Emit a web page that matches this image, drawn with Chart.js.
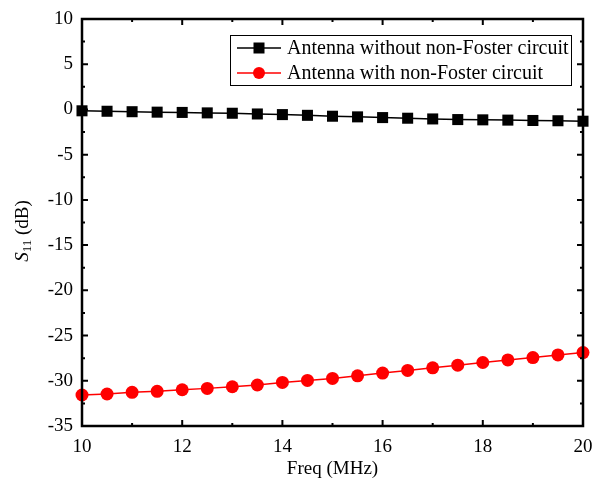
<!DOCTYPE html>
<html>
<head>
<meta charset="utf-8">
<script src="https://cdn.jsdelivr.net/npm/chart.js@4.4.1/dist/chart.umd.min.js"></script>
<style>
  html, body { margin: 0; padding: 0; background: #fff; }
  #wrap { width: 593px; height: 482px; }
</style>
</head>
<body>
<div id="wrap"><canvas id="grafico"></canvas></div>
<script>
// frecuencias (MHz)
const freq = [10, 10.5, 11, 11.5, 12, 12.5, 13, 13.5, 14, 14.5, 15, 15.5, 16, 16.5, 17, 17.5, 18, 18.5, 19, 19.5, 20];
// S11 sin circuito non-Foster
const s11Sin = [-0.15, -0.2, -0.25, -0.3, -0.33, -0.38, -0.42, -0.5, -0.57, -0.65, -0.75, -0.82, -0.9, -0.97, -1.05, -1.12, -1.15, -1.18, -1.22, -1.25, -1.3];
// S11 con circuito non-Foster
const s11Con = [-31.57, -31.46, -31.28, -31.17, -30.99, -30.84, -30.66, -30.47, -30.18, -29.96, -29.74, -29.45, -29.15, -28.86, -28.57, -28.27, -27.98, -27.69, -27.43, -27.14, -26.88];
const nombres = ['Antenna without non-Foster circuit', 'Antenna with non-Foster circuit'];
const xTicks = [10, 12, 14, 16, 18, 20];
const yTicks = [10, 5, 0, -5, -10, -15, -20, -25, -30, -35];

const FUENTE = '"Liberation Serif", "Times New Roman", serif';

// marco, ticks hacia adentro, titulo Y y leyenda
const extras = {
  id: 'extras',
  afterDraw(chart) {
    const { ctx, chartArea: a, scales: { x, y } } = chart;
    ctx.save();
    ctx.strokeStyle = '#000';
    ctx.lineWidth = 2.5;
    ctx.strokeRect(a.left, a.top, a.right - a.left, a.bottom - a.top);

    ctx.lineWidth = 2;
    for (let v = 10; v <= 20; v += 1) {
      const px = x.getPixelForValue(v);
      const len = v % 2 === 0 ? 6 : 3;
      ctx.beginPath();
      ctx.moveTo(px, a.bottom); ctx.lineTo(px, a.bottom - len);
      ctx.moveTo(px, a.top); ctx.lineTo(px, a.top + len);
      ctx.stroke();
    }
    for (let v = -35; v <= 10; v += 2.5) {
      const py = y.getPixelForValue(v);
      const len = v % 5 === 0 ? 6 : 3;
      ctx.beginPath();
      ctx.moveTo(a.left, py); ctx.lineTo(a.left + len, py);
      ctx.moveTo(a.right, py); ctx.lineTo(a.right - len, py);
      ctx.stroke();
    }

    // titulo eje Y: S11 (dB)
    ctx.fillStyle = '#000';
    ctx.translate(23, 231);
    ctx.rotate(-Math.PI / 2);
    ctx.textBaseline = 'middle';
    ctx.font = 'italic 19px ' + FUENTE;
    const wS = ctx.measureText('S').width;
    ctx.font = '13px ' + FUENTE;
    const w11 = ctx.measureText('11').width;
    ctx.font = '19px ' + FUENTE;
    const wR = ctx.measureText(' (dB)').width;
    let tx = -(wS + w11 + wR) / 2;
    ctx.textAlign = 'left';
    ctx.font = 'italic 19px ' + FUENTE;
    ctx.fillText('S', tx, 0);
    tx += wS;
    ctx.font = '13px ' + FUENTE;
    ctx.fillText('11', tx, 5);
    tx += w11;
    ctx.font = '19px ' + FUENTE;
    ctx.fillText(' (dB)', tx, 0);
    ctx.restore();

    // leyenda
    ctx.save();
    const lx = 230, ly = 35, lw = 341, lh = 50;
    ctx.fillStyle = '#fff';
    ctx.fillRect(lx, ly, lw, lh);
    ctx.strokeStyle = '#000';
    ctx.lineWidth = 1;
    ctx.strokeRect(lx + 0.5, ly + 0.5, lw, lh);
    ctx.font = '20px ' + FUENTE;
    ctx.textBaseline = 'middle';
    chart.data.datasets.forEach((ds, i) => {
      const cy = ly + 13 + i * 25;
      ctx.strokeStyle = ds.borderColor;
      ctx.lineWidth = 1.5;
      ctx.beginPath();
      ctx.moveTo(lx + 7, cy); ctx.lineTo(lx + 51, cy);
      ctx.stroke();
      ctx.fillStyle = ds.backgroundColor;
      if (ds.pointStyle === 'rect') {
        ctx.fillRect(lx + 29 - 5.5, cy - 5.5, 11, 11);
      } else {
        ctx.beginPath();
        ctx.arc(lx + 29, cy, 6, 0, Math.PI * 2);
        ctx.fill();
      }
      ctx.fillStyle = '#000';
      ctx.fillText(ds.label, lx + 57, cy + 1);
    });
    ctx.restore();
  }
};

new Chart(document.getElementById('grafico').getContext('2d'), {
  type: 'line',
  data: {
    datasets: [
      {
        label: nombres[0],
        data: freq.map((f, i) => ({ x: f, y: s11Sin[i] })),
        borderColor: '#000',
        backgroundColor: '#000',
        borderWidth: 1.5,
        pointStyle: 'rect',
        pointRadius: 7.8,
        pointBorderWidth: 0,
        tension: 0
      },
      {
        label: nombres[1],
        data: freq.map((f, i) => ({ x: f, y: s11Con[i] })),
        borderColor: '#ff0000',
        backgroundColor: '#ff0000',
        borderWidth: 1.5,
        pointStyle: 'circle',
        pointRadius: 6.5,
        pointBorderWidth: 0,
        tension: 0
      }
    ]
  },
  options: {
    responsive: true,
    maintainAspectRatio: false,
    animation: false,
    clip: false,
    layout: { padding: { top: 19, right: 10, left: 0, bottom: 0 } },
    plugins: { legend: { display: false }, tooltip: { enabled: false } },
    scales: {
      x: {
        type: 'linear',
        min: 10, max: 20,
        afterBuildTicks: s => { s.ticks = xTicks.map(v => ({ value: v })); },
        afterFit: s => { s.height = 56; s.paddingRight = 0; s.paddingLeft = 0; },
        grid: { display: false, drawTicks: false },
        border: { display: false },
        ticks: { color: '#000', font: { family: FUENTE, size: 19 }, padding: 10, maxRotation: 0 },
        title: { display: true, text: 'Freq (MHz)', color: '#000', font: { family: FUENTE, size: 19 }, padding: { top: 0, bottom: 2 } }
      },
      y: {
        min: -35, max: 10,
        afterBuildTicks: s => { s.ticks = yTicks.map(v => ({ value: v })); },
        afterFit: s => { s.width = 82; s.paddingTop = 0; s.paddingBottom = 0; },
        grid: { display: false, drawTicks: false },
        border: { display: false },
        ticks: { color: '#000', font: { family: FUENTE, size: 19 }, padding: 9 }
      }
    }
  },
  plugins: [extras]
});
</script>
</body>
</html>
